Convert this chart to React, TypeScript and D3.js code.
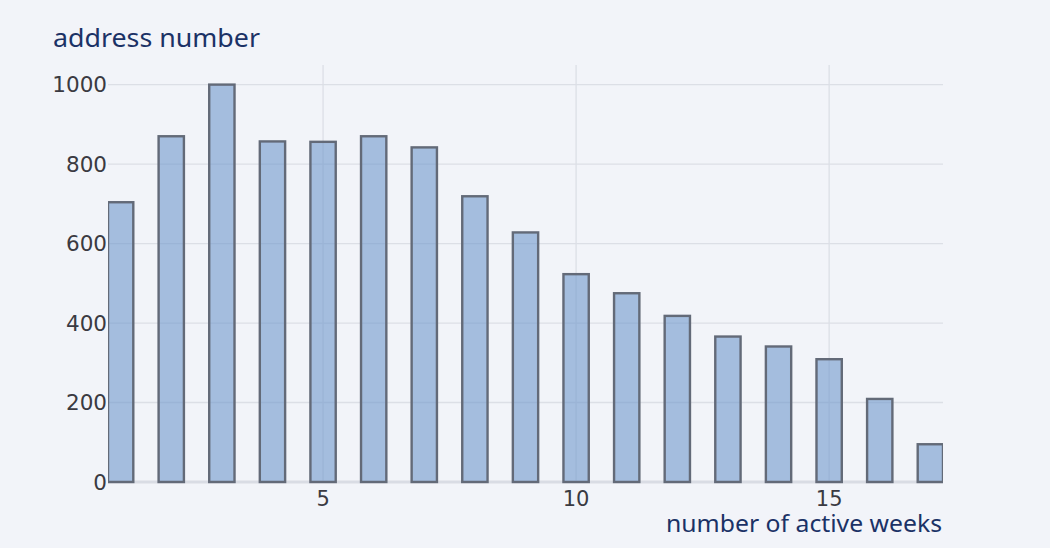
import React from "react";
import * as d3 from "d3";

const weeks = [1, 2, 3, 4, 5, 6, 7, 8, 9, 10, 11, 12, 13, 14, 15, 16, 17];
const addressCounts = [704, 870, 1000, 857, 856, 870, 842, 719, 628, 523, 475, 418, 366, 341, 309, 209, 95];
const yTicks = [0, 200, 400, 600, 800, 1000];
const xTicks = [5, 10, 15];
const xTitle = "number of active weeks";
const yTitle = "address number";

const W = 1050;
const H = 548;
const left = 108;
const right = 943;
const top = 65;
const bottom = 482;

export default function App() {
  const x = d3.scaleLinear().domain([0.75, 17.25]).range([left, right]);
  const y = d3.scaleLinear().domain([0, 1050]).range([bottom, bottom - 1050 * 0.3974]);
  const bw = x(1.25) - x(1);
  const tickFont = "'DejaVu Sans', 'Open Sans', sans-serif";
  const titleFont = "'Noto Sans', 'Open Sans', sans-serif";
  return (
    <svg
      width={W}
      height={H}
      style={{ position: "absolute", left: 0, top: 0, display: "block" }}
    >
      <defs>
        <clipPath id="plot">
          <rect x={left} y={top - 5} width={right - left} height={bottom - top + 10} />
        </clipPath>
      </defs>
      <rect x={0} y={0} width={W} height={H} fill="#f2f4f9" />
      {yTicks.filter((t) => t > 0).map((t) => (
        <line key={"gy" + t} x1={left} x2={right} y1={y(t)} y2={y(t)} stroke="#dcdfe6" strokeWidth={1.3} />
      ))}
      {xTicks.map((t) => (
        <line key={"gx" + t} x1={x(t)} x2={x(t)} y1={top} y2={bottom} stroke="#dcdfe6" strokeWidth={1.3} />
      ))}
      <line x1={left} x2={right} y1={y(0)} y2={y(0)} stroke="#d9dce4" strokeWidth={3} />
      <g clipPath="url(#plot)">
        {weeks.map((w, i) => (
          <rect
            key={w}
            x={x(w) - bw}
            y={y(addressCounts[i])}
            width={bw * 2}
            height={y(0) - y(addressCounts[i])}
            fill="#6f98cc"
            fillOpacity={0.6}
            stroke="#636a78"
            strokeWidth={2.4}
          />
        ))}
      </g>
      {yTicks.map((t) => (
        <text
          key={"ty" + t}
          x={left - 1}
          y={y(t)}
          dy="0.36em"
          textAnchor="end"
          fontFamily={tickFont}
          fontSize={21.5}
          fill="#3a3a42"
        >
          {t}
        </text>
      ))}
      {xTicks.map((t) => (
        <text
          key={"tx" + t}
          x={x(t)}
          y={506}
          textAnchor="middle"
          fontFamily={tickFont}
          fontSize={21}
          fill="#3a3a42"
        >
          {t}
        </text>
      ))}
      <text x={53} y={47} fontFamily={titleFont} fontSize={26} fill="#1b3266" textLength={207} lengthAdjust="spacingAndGlyphs">
        {yTitle}
      </text>
      <text x={666} y={532} fontFamily={titleFont} fontSize={24} fill="#1b3266" textLength={276} lengthAdjust="spacingAndGlyphs">
        {xTitle}
      </text>
    </svg>
  );
}
